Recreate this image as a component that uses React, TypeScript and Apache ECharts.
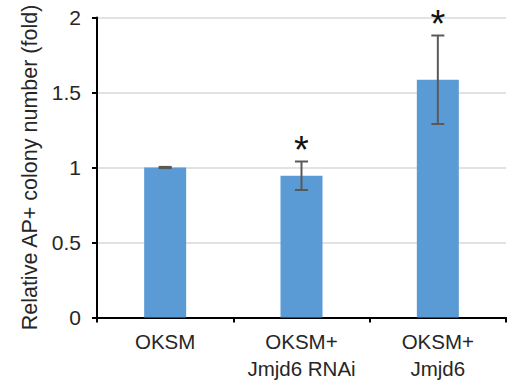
import { useEffect, useRef } from "react";
import * as echarts from "echarts";

const categories = ["OKSM", "OKSM+\nJmjd6 RNAi", "OKSM+\nJmjd6"];
const values = [1.0, 0.945, 1.585];
const errors = [0.004, 0.095, 0.295];
const marks = ["", "*", "*"];
const yTitle = "Relative AP+ colony number (fold)";

export default function App() {
  const ref = useRef<HTMLDivElement>(null);
  useEffect(() => {
    const chart = echarts.init(ref.current!, null, { renderer: "svg" });
    const font = "'Liberation Sans', Arial, sans-serif";
    chart.setOption({
      animation: false,
      grid: { left: 97, right: 6, top: 17.5, bottom: 66.5 },
      xAxis: {
        type: "category",
        data: categories,
        axisLine: { lineStyle: { color: "#000", width: 2 } },
        axisTick: { show: true, length: 5, lineStyle: { color: "#000", width: 2 } },
        axisLabel: { interval: 0, color: "#262626", fontSize: 20.5, lineHeight: 27, margin: 10, fontFamily: font },
      },
      yAxis: {
        type: "value",
        min: 0,
        max: 2,
        interval: 0.5,
        name: yTitle,
        nameLocation: "middle",
        nameGap: 56,
        nameTextStyle: { color: "#262626", fontSize: 21.5, fontFamily: font },
        axisLine: { show: true, lineStyle: { color: "#000", width: 2 } },
        axisTick: { show: true, length: 5, lineStyle: { color: "#000", width: 2 } },
        splitLine: { lineStyle: { color: "#d9d9d9", width: 1.5 } },
        axisLabel: { color: "#262626", fontSize: 21, margin: 16, fontFamily: font },
      },
      series: [
        {
          type: "bar",
          data: values,
          barWidth: 42,
          itemStyle: { color: "#5b9bd5" },
          z: 2,
        },
        {
          type: "custom",
          data: values.map((v, i) => [i, v - errors[i], v + errors[i]]),
          encode: { x: 0, y: [1, 2] },
          z: 3,
          renderItem: (params: any, api: any) => {
            const x = api.value(0);
            const lo = api.coord([x, api.value(1)]);
            const hi = api.coord([x, api.value(2)]);
            const w = 6.5;
            const st = { stroke: "#595959", lineWidth: 2 };
            const children: any[] = [
              { type: "line", shape: { x1: lo[0], y1: lo[1], x2: hi[0], y2: hi[1] }, style: st },
              { type: "line", shape: { x1: lo[0] - w, y1: lo[1], x2: lo[0] + w, y2: lo[1] }, style: st },
              { type: "line", shape: { x1: hi[0] - w, y1: hi[1], x2: hi[0] + w, y2: hi[1] }, style: st },
            ];
            const m = marks[params.dataIndex];
            if (m) {
              children.push({
                type: "text",
                style: {
                  text: m,
                  x: hi[0],
                  y: hi[1] - 12,
                  align: "center",
                  verticalAlign: "middle",
                  fontSize: 38,
                  fill: "#111",
                  fontFamily: font,
                },
              });
            }
            return { type: "group", children };
          },
        },
      ],
    });
    return () => chart.dispose();
  }, []);
  return (
    <div
      ref={ref}
      style={{ position: "fixed", left: 0, top: 0, width: 512, height: 384, background: "#fff" }}
    />
  );
}
